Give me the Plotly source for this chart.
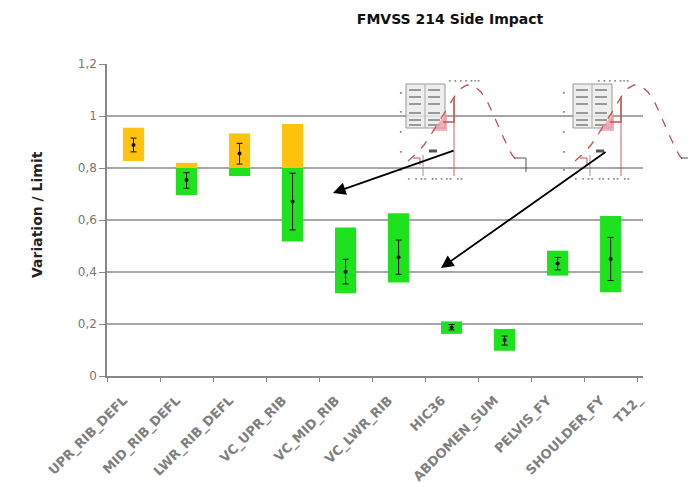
import plotly.graph_objects as go

# ---------------- data ----------------
categories = ["UPR_RIB_DEFL", "MID_RIB_DEFL", "LWR_RIB_DEFL", "VC_UPR_RIB", "VC_MID_RIB",
              "VC_LWR_RIB", "HIC36", "ABDOMEN_SUM", "PELVIS_FY", "SHOULDER_FY"]
cut_label = "T12_"
range_low = [0.827, 0.696, 0.769, 0.517, 0.318, 0.360, 0.162, 0.097, 0.386, 0.322]
range_high = [0.955, 0.820, 0.933, 0.969, 0.571, 0.626, 0.210, 0.181, 0.482, 0.615]
mean_val = [0.888, 0.754, 0.856, 0.671, 0.401, 0.457, 0.187, 0.138, 0.433, 0.450]
err_high = [0.915, 0.782, 0.895, 0.780, 0.449, 0.523, 0.198, 0.154, 0.456, 0.533]
err_low = [0.862, 0.722, 0.815, 0.562, 0.354, 0.391, 0.177, 0.119, 0.408, 0.367]
threshold = 0.8

GREEN = "#1EE21E"
ORANGE = "#FFC20E"

# split each range into part below and above threshold
g_base, g_h, o_base, o_h = [], [], [], []
for lo, hi in zip(range_low, range_high):
    gb = lo
    gt = min(hi, threshold)
    g_base.append(gb)
    g_h.append(max(gt - gb, 0))
    ob = max(lo, threshold)
    o_base.append(ob)
    o_h.append(max(hi - ob, 0))

fig = go.Figure()
fig.add_trace(go.Bar(x=categories, y=g_h, base=g_base, marker=dict(color=GREEN, line=dict(width=0)),
                     width=0.4, showlegend=False, hoverinfo="skip"))
fig.add_trace(go.Bar(x=categories, y=o_h, base=o_base, marker=dict(color=ORANGE, line=dict(width=0)),
                     width=0.4, showlegend=False, hoverinfo="skip"))
fig.add_trace(go.Scatter(
    x=categories, y=mean_val, mode="markers",
    marker=dict(color="#111111", size=4),
    error_y=dict(type="data", symmetric=False,
                 array=[h - m for h, m in zip(err_high, mean_val)],
                 arrayminus=[m - l for m, l in zip(mean_val, err_low)],
                 color="#111111", thickness=1, width=3),
    showlegend=False, hoverinfo="skip"))

# ---------------- layout geometry ----------------
# plot area in screenshot pixels (page has an 8px body margin)
OFF = 8
L, T, R, B = 107, 64, 643, 376
W, H = 696, 483


def P(px, py):
    return (px - L) / (R - L), (B - py) / (B - T)


shapes = []
annotations = []


def path(points):
    s = ""
    for i, (px, py) in enumerate(points):
        x, y = P(px, py)
        s += ("M" if i == 0 else "L") + f"{x:.4f},{y:.4f} "
    return s


def inset(dx):
    # legend box
    x0, y0 = P(406 + dx, 84)
    x1, y1 = P(445 + dx, 128)
    shapes.append(dict(type="rect", xref="paper", yref="paper", x0=x0, y0=y1, x1=x1, y1=y0,
                       line=dict(color="#999999", width=1), fillcolor="rgba(235,235,235,0.85)", layer="above"))
    xm, _ = P(425 + dx, 0)
    shapes.append(dict(type="line", xref="paper", yref="paper", x0=xm, x1=xm, y0=y1, y1=y0,
                       line=dict(color="#aaaaaa", width=1), layer="above"))
    for r in [90, 97, 104, 113, 120, 125]:
        for cx in [409, 428]:
            a, b_ = P(cx + dx, r)
            c, _ = P(cx + dx + 12, r)
            shapes.append(dict(type="line", xref="paper", yref="paper", x0=a, x1=c, y0=b_, y1=b_,
                               line=dict(color="#999999", width=2), layer="above"))
    # pink shaded area
    shapes.append(dict(type="path", xref="paper", yref="paper", layer="above",
                       path=path([(432 + dx, 131), (447 + dx, 113), (447 + dx, 131)]) + "Z",
                       fillcolor="rgba(240,150,165,0.75)", line=dict(width=0)))
    # bell curve (dashed)
    curve = [(408, 161), (416, 154), (424, 145), (432, 133), (440, 120), (447, 109), (454, 97),
             (460, 89), (467, 85), (474, 86), (481, 92), (488, 103), (494, 116), (500, 130),
             (506, 143), (512, 155), (517, 161)]
    shapes.append(dict(type="path", xref="paper", yref="paper", layer="above",
                       path=path([(x + dx, y) for x, y in curve]),
                       line=dict(color="#c0504d", width=1.3, dash="dash")))
    # red step and vertical line
    shapes.append(dict(type="path", xref="paper", yref="paper", layer="above",
                       path=path([(443 + dx, 122), (454 + dx, 122), (454 + dx, 97)]),
                       line=dict(color="#c0504d", width=1.5)))
    shapes.append(dict(type="path", xref="paper", yref="paper", layer="above",
                       path=path([(454 + dx, 97), (454 + dx, 176)]),
                       line=dict(color="#d06060", width=1)))
    shapes.append(dict(type="path", xref="paper", yref="paper", layer="above",
                       path=path([(423 + dx, 155), (423 + dx, 176)]),
                       line=dict(color="#999999", width=1)))
    shapes.append(dict(type="path", xref="paper", yref="paper", layer="above",
                       path=path([(413 + dx, 158), (420 + dx, 158), (420 + dx, 165)]),
                       line=dict(color="#c0504d", width=1)))
    shapes.append(dict(type="path", xref="paper", yref="paper", layer="above",
                       path=path([(514 + dx, 158), (526 + dx, 158), (526 + dx, 172)]),
                       line=dict(color="#555555", width=1)))
    # small dark mark
    shapes.append(dict(type="path", xref="paper", yref="paper", layer="above",
                       path=path([(429 + dx, 151), (437 + dx, 151)]),
                       line=dict(color="#555555", width=3)))
    # faint texts
    tx, ty = P(464 + dx, 75)
    annotations.append(dict(xref="paper", yref="paper", x=tx, y=ty,
                            text="&#8226; &#8226; &#8226; &#8226; &#8226;&#8226;&#8226;",
                            showarrow=False, font=dict(size=6, color="#777777")))
    tx, ty = P(465 + dx, 178)
    annotations.append(dict(xref="paper", yref="paper", x=tx, y=ty,
                            text="&#8226;  &#8226; &#8226;&#8226;  &#8226;&#8226; &#8226; &#8226;&#8226;  &#8226;&#8226;",
                            showarrow=False, font=dict(size=6, color="#777777")))
    for yy in [87, 106, 126, 146, 164]:
        tx, ty = P(401 + dx, yy)
        annotations.append(dict(xref="paper", yref="paper", x=tx, y=ty, text="&#8226;",
                                showarrow=False, font=dict(size=6, color="#666666")))


inset(0)
inset(167)

# arrows
for (hx, hy), (tx_, ty_) in [((333, 193), (455, 150)), ((441, 268), (607, 151))]:
    x, y = P(hx, hy)
    annotations.append(dict(xref="paper", yref="paper", x=x, y=y, text="", showarrow=True,
                            ax=tx_ - hx, ay=ty_ - hy, arrowhead=2, arrowsize=1.4,
                            arrowwidth=1.8, arrowcolor="#000000"))

# y-axis title
x, y = P(27, 215)
annotations.append(dict(xref="paper", yref="paper", x=x, y=y, text="<b>Variation / Limit</b>",
                        textangle=-90, showarrow=False,
                        font=dict(size=14, color="#222222", family="DejaVu Sans")))
# cut-off last category label
x, y = P(649, 388)
annotations.append(dict(xref="paper", yref="paper", x=x, y=y, text="<b>" + cut_label + "</b>",
                        textangle=-45, xanchor="right", yanchor="top", showarrow=False,
                        font=dict(size=13, color="#808080", family="DejaVu Sans")))

fig.update_layout(
    width=W, height=H,
    margin=dict(l=L - OFF, r=W - (R - OFF), t=T - OFF, b=H - (B - OFF)),
    paper_bgcolor="white", plot_bgcolor="white",
    separators=",.",
    barmode="overlay",
    title=dict(text="<b>FMVSS 214 Side Impact</b>", x=(450 - OFF) / W, xref="container",
               y=1 - (19 - OFF) / H, yanchor="middle", xanchor="center",
               font=dict(size=14, color="#111111", family="DejaVu Sans")),
    shapes=shapes, annotations=annotations,
    font=dict(family="DejaVu Sans"),
)
fig.update_xaxes(range=[-0.5, 9.61], tickangle=-45, showgrid=False, showline=True,
                 linecolor="#888888", linewidth=1.5, ticks="outside", tickson="boundaries",
                 ticklen=4, tickcolor="#888888", automargin=False,
                 tickvals=categories, ticktext=["<b>" + c + "</b>" for c in categories],
                 ticklabelstandoff=10, ticklabelshift=-10,
                 tickfont=dict(size=13, color="#808080"))
fig.update_yaxes(range=[0, 1.2], dtick=0.2, showgrid=True, gridcolor="#a6a6a6", gridwidth=1.5,
                 showline=True, linecolor="#888888", linewidth=1.5, ticks="outside", ticklen=6,
                 tickcolor="#888888", tickfont=dict(size=12, color="#777777"), zeroline=False,
                 automargin=False)

fig.write_html("out.html")
